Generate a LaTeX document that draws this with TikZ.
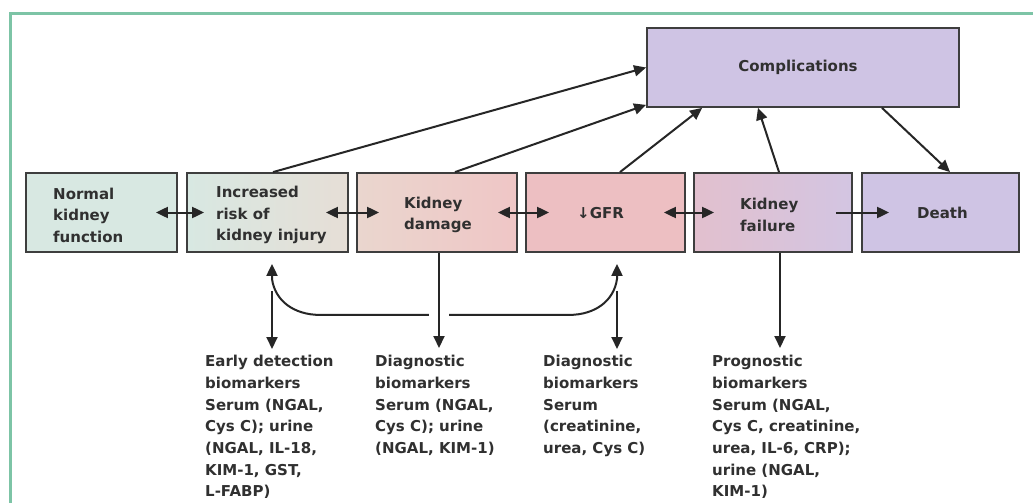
\documentclass[tikz,border=0pt]{standalone}
\usepackage{fontspec}
\setmainfont{DejaVu Sans}
\usetikzlibrary{arrows.meta,calc}
\definecolor{framegreen}{HTML}{7DC4A6}
\definecolor{boxline}{HTML}{3E3E3E}
\definecolor{txt}{HTML}{303030}
\definecolor{teal1}{HTML}{D8E8E2}
\definecolor{beige1}{HTML}{E6DED6}
\definecolor{pink0}{HTML}{EAD6CE}
\definecolor{pink1}{HTML}{EFC6C6}
\definecolor{pink2}{HTML}{EDBFC2}
\definecolor{mauve1}{HTML}{E2C0CE}
\definecolor{lav1}{HTML}{D3C5E2}
\definecolor{lav2}{HTML}{CFC4E4}
\begin{document}
\begin{tikzpicture}[x=1pt,y=-1pt,
  stage/.style={draw=boxline, line width=1.8pt, minimum height=79pt, inner sep=0pt},
  lbl/.style={text=txt, font=\bfseries\fontsize{15}{21.5}\selectfont, align=left, inner sep=0pt, anchor=west},
  bio/.style={text=txt, font=\bfseries\fontsize{15}{21.7}\selectfont, align=left, inner sep=0pt, anchor=north west},
  conn/.style={draw=black!85, line width=2pt},
  tip/.style={-{Triangle[length=12pt,width=11pt]}},
  dtip/.style={{Triangle[length=12pt,width=11pt]}-{Triangle[length=12pt,width=11pt]}}
]
\useasboundingbox (0,0) rectangle (1033,503);
\fill[white] (0,0) rectangle (1033,503);
\draw[framegreen, line width=3pt] (10,520) -- (10,14) -- (1045,14);

% boxes
\node[stage, minimum width=151pt, fill=teal1] (b1) at (101.5,212.5) {};
\node[stage, minimum width=161pt, left color=teal1, right color=beige1] (b2) at (267.5,212.5) {};
\node[stage, minimum width=160pt, left color=pink0, right color=pink1] (b3) at (437,212.5) {};
\node[stage, minimum width=159pt, fill=pink2] (b4) at (605.5,212.5) {};
\node[stage, minimum width=158pt, left color=mauve1, right color=lav1] (b5) at (773,212.5) {};
\node[stage, minimum width=157pt, fill=lav2] (b6) at (940.5,212.5) {};
\node[stage, minimum width=312pt, minimum height=79pt, fill=lav2] (comp) at (803,67.5) {};

% box texts
\node[lbl] (t1) at (53,215) {Normal\\kidney\\function};
\node[lbl] (t2) at (216,215) {Increased\\risk of\\kidney injury};
\node[lbl] (t3) at (404,215) {Kidney\\damage};
\node[lbl] (t4) at (577,213) {{\fontspec{DejaVu Sans}\bfseries\char"2193}GFR};
\node[lbl] (t5) at (740,215) {Kidney\\failure};
\node[lbl] (t6) at (917,213) {Death};
\node[text=txt, font=\bfseries\fontsize{15}{21.5}\selectfont, inner sep=0pt] (tc) at (798,67) {Complications};

% horizontal arrows
\draw[conn, dtip] ($(b1.east)+(-22,0)$) -- ($(b2.west)+(18,0)$);
\draw[conn, dtip] ($(b2.east)+(-23,0)$) -- ($(b3.west)+(23,0)$);
\draw[conn, dtip] ($(b3.east)+(-20,0)$) -- ($(b4.west)+(24,0)$);
\draw[conn, dtip] ($(b4.east)+(-22,0)$) -- ($(b5.west)+(21,0)$);
\draw[conn, tip] ($(b5.east)+(-17,0)$) -- ($(b6.west)+(28,0)$);

% to complications
\draw[conn, tip] ($(b2.north)+(5.5,0)$) -- (comp.west);
\draw[conn, tip] ($(b3.north)+(18,0)$) -- ($(comp.south west)+(0,-3)$);
\draw[conn, tip] ($(b4.north)+(14.5,0)$) -- ($(comp.south west)+(56,0)$);
\draw[conn, tip] ($(b5.north)+(6,0)$) -- ($(comp.south)+(-45,0)$);
\draw[conn, tip] ($(comp.south)+(79,0)$) -- ($(b6.north)+(9.5,0)$);

% bottom texts
\node[bio] (early) at (205,355) {Early detection\\biomarkers\\Serum (NGAL,\\Cys C); urine\\(NGAL, IL-18,\\KIM-1, GST,\\L-FABP)};
\node[bio] (diag1) at (375,355) {Diagnostic\\biomarkers\\Serum (NGAL,\\Cys C); urine\\(NGAL, KIM-1)};
\node[bio] (diag2) at (543,355) {Diagnostic\\biomarkers\\Serum\\(creatinine,\\urea, Cys C)};
\node[bio] (prog) at (712,355) {Prognostic\\biomarkers\\Serum (NGAL,\\Cys C, creatinine,\\urea, IL-6, CRP);\\urine (NGAL,\\KIM-1)};

% curved link between increased risk and GFR
\coordinate (c1) at ($(b2.south)+(4.5,26)$);
\coordinate (c2) at ($(b4.south)+(11.5,26)$);
\coordinate (j1) at ($(b2.south)+(4.5,38)$);
\coordinate (j2) at ($(b4.south)+(11.5,38)$);
\draw[conn, dtip] ($(b2.south)+(4.5,11)$) -- (c1) .. controls ($(c1)+(3,22)$) and ($(c1)+(22,36)$) .. ($(c1)+(48,36)$)
   -- ($(c2)+(-48,36)$) .. controls ($(c2)+(-22,36)$) and ($(c2)+(-3,22)$) .. (c2) -- ($(b4.south)+(11.5,11)$);
\fill[white] (429,309) rectangle (449,320);

% vertical arrows down to biomarkers
\draw[conn, tip] (j1) -- ($(early.north west)+(67,-6)$);
\draw[conn, tip] ($(b3.south)+(2,0)$) -- ($(diag1.north west)+(64,-7)$);
\draw[conn, tip] (j2) -- ($(diag2.north west)+(74,-6)$);
\draw[conn, tip] ($(b5.south)+(7,0)$) -- ($(prog.north west)+(68,-7)$);
\end{tikzpicture}
\end{document}
